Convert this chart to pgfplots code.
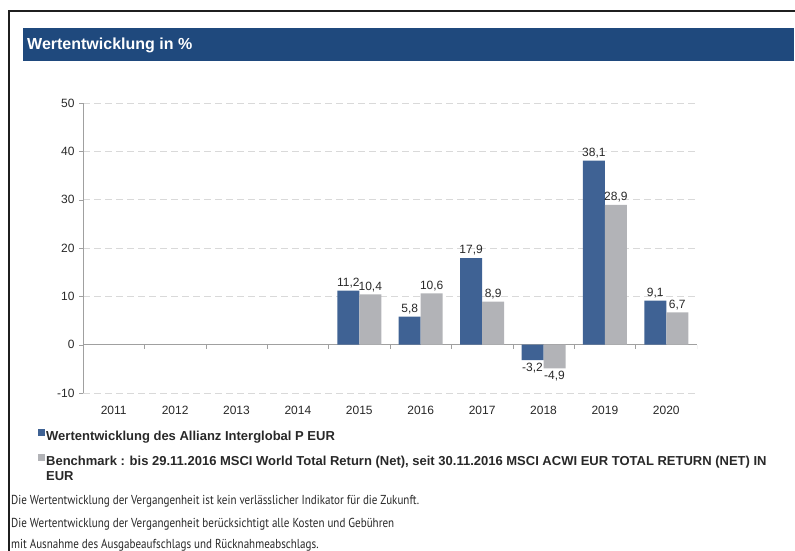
\documentclass[border=0pt]{standalone}
\usepackage{fontspec}
\setmainfont{Liberation Sans}
\newfontfamily\notefont[FakeStretch=0.85]{PT Sans}
\usepackage{pgfplots}
\pgfplotsset{compat=1.18}
\definecolor{banner}{RGB}{31,73,125}
\definecolor{fundblue}{RGB}{63,98,148}
\definecolor{benchgray}{RGB}{178,179,183}
\definecolor{gridgray}{RGB}{217,217,217}
\definecolor{axisgray}{RGB}{160,160,160}
\definecolor{txt}{RGB}{40,40,40}
\begin{document}
\begin{tikzpicture}[x=1pt,y=1pt]
\path[use as bounding box] (0,0) rectangle (795,-551);
\draw[line width=2pt, color=black!88] (9,-553) -- (9,-11) -- (797,-11);
\fill[banner] (23,-28) rectangle (794,-61);
\node[anchor=base west, inner sep=0pt, text=white, font=\fontsize{16}{19}\selectfont\bfseries] at (27,-50) {Wertentwicklung in \%};
\begin{axis}[
  at={(83pt,-393pt)}, anchor=south west,
  scale only axis, width=614pt, height=290pt,
  xmin=-0.5, xmax=9.5, ymin=-10, ymax=50,
  ytick={-10,0,10,20,30,40,50},
  xtick={0,1,2,3,4,5,6,7,8,9},
  xticklabels={2011,2012,2013,2014,2015,2016,2017,2018,2019,2020},
  axis x line*=bottom, x axis line style={draw=none}, xtick style={draw=none},
  axis y line*=left, y axis line style={axisgray, -}, ytick style={axisgray},
  tick align=outside, major tick length=4pt,
  ymajorgrids, major grid style={gridgray, dash pattern=on 7pt off 4pt, line width=1pt},
  yticklabel style={font=\fontsize{12}{14}\selectfont, text=txt, xshift=-1pt},
  xticklabel style={font=\fontsize{12}{14}\selectfont, text=txt, yshift=-6pt},
  /pgf/number format/assume math mode=true,
  ybar=0pt, bar width=22pt,
  nodes near coords,
  nodes near coords style={font=\fontsize{12}{14}\selectfont, text=txt, inner sep=2.5pt,
    /pgf/number format/.cd, fixed, fixed zerofill, precision=1, use comma, assume math mode=true},
  legend style={at={(axis description cs:-0.0733,-0.125)}, anchor=north west, draw=none, fill=none,
    font=\fontsize{13}{15}\selectfont\bfseries, row sep=11pt, inner sep=0pt,
    nodes={inner sep=1pt, text=txt}},
  legend cell align=left,
  legend image code/.code={\fill[#1] (0pt,0pt) rectangle (7pt,7pt);},
]
\draw[axisgray] (axis cs:-0.5,0) -- (axis cs:9.5,0);
\pgfplotsinvokeforeach{0.5,1.5,2.5,3.5,4.5,5.5,6.5,7.5,8.5,9.5}{\draw[axisgray] (axis cs:#1,0) -- ++(0pt,-4pt);}
\addplot[fill=fundblue, draw=none] coordinates {(4,11.2) (5,5.8) (6,17.9) (7,-3.2) (8,38.1) (9,9.1)};
\addlegendentry{Wertentwicklung des Allianz Interglobal P EUR}
\addplot[fill=benchgray, draw=none] coordinates {(4,10.4) (5,10.6) (6,8.9) (7,-4.9) (8,28.9) (9,6.7)};
\addlegendentry{\begin{tabular}[t]{@{}l@{}}Benchmark : bis 29.11.2016 MSCI World Total Return (Net), seit 30.11.2016 MSCI ACWI EUR TOTAL RETURN (NET) IN\\EUR\end{tabular}}
\end{axis}
\node[anchor=base west, inner sep=0pt, text=txt, font=\notefont\fontsize{13}{15}\selectfont] at (11,-504) {Die Wertentwicklung der Vergangenheit ist kein verlässlicher Indikator für die Zukunft.};
\node[anchor=base west, inner sep=0pt, text=txt, font=\notefont\fontsize{13}{15}\selectfont] at (11,-527) {Die Wertentwicklung der Vergangenheit berücksichtigt alle Kosten und Gebühren};
\node[anchor=base west, inner sep=0pt, text=txt, font=\notefont\fontsize{13}{15}\selectfont] at (11,-548) {mit Ausnahme des Ausgabeaufschlags und Rücknahmeabschlags.};
\end{tikzpicture}
\end{document}
